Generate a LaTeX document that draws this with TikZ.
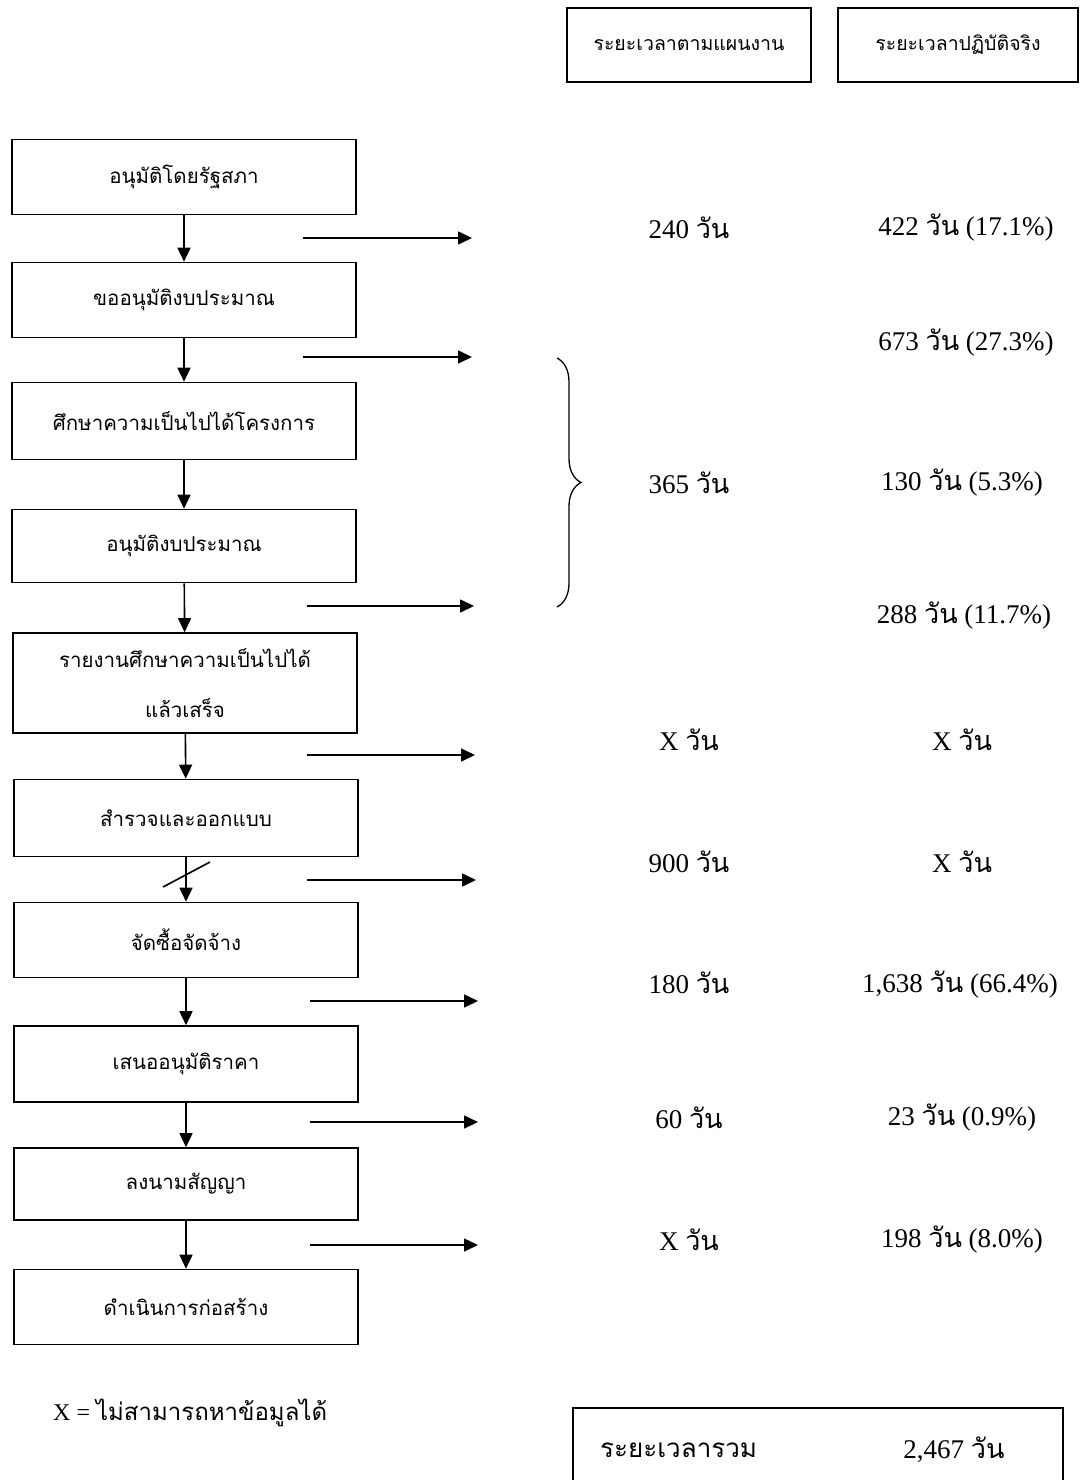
\documentclass[tikz,border=0pt]{standalone}
\usepackage{fontspec}
\setmainfont{Liberation Serif}
\newfontfamily\thai[Script=Thai]{Loma}
\usetikzlibrary{arrows.meta,decorations.pathreplacing}
\begin{document}
\begin{tikzpicture}[x=1pt,y=-1pt,
  stepbox/.style={draw,line width=1.6pt,minimum width=344pt,minimum height=75pt,align=center,inner sep=2pt,font=\thai\fontsize{20.5}{34}\selectfont},
  headbox/.style={draw,line width=1.6pt,minimum width=244pt,minimum height=74pt,font=\thai\fontsize{19.5}{26}\selectfont},
  flow/.style={line width=1.6pt,-{Triangle[length=14pt,width=13pt]}},
  val/.style={font=\fontsize{27}{30}\selectfont,inner sep=0pt}]
\useasboundingbox (0,0) rectangle (1083,1480);
\fill[white] (0,0) rectangle (1083,1480);
% headers
\node[headbox] (h1) at (689,45) {ระยะเวลาตามแผนงาน};
\node[headbox,minimum width=240pt] (h2) at (958,45) {ระยะเวลาปฏิบัติจริง};
% steps
\node[stepbox] (b1) at (184,177) {อนุมัติโดยรัฐสภา};
\node[stepbox] (b2) at (184,300) {ขออนุมัติงบประมาณ};
\node[stepbox,minimum height=77pt] (b3) at (184,421) {ศึกษาความเป็นไปได้โครงการ};
\node[stepbox,minimum height=73pt] (b4) at (184,546) {อนุมัติงบประมาณ};
\node[stepbox,minimum height=100pt,font=\thai\fontsize{20.5}{50}\selectfont] (b5) at (185,683) {รายงานศึกษาความเป็นไปได้\\แล้วเสร็จ};
\node[stepbox,minimum height=77pt] (b6) at (186,818) {สำรวจและออกแบบ};
\node[stepbox] (b7) at (186,940) {จัดซื้อจัดจ้าง};
\node[stepbox,minimum height=76pt] (b8) at (186,1064) {เสนออนุมัติราคา};
\node[stepbox,minimum height=72pt] (b9) at (186,1184) {ลงนามสัญญา};
\node[stepbox] (b10) at (186,1307) {ดำเนินการก่อสร้าง};
% vertical arrows
\foreach \a/\b in {b1/b2,b2/b3,b3/b4,b4/b5,b5/b6,b6/b7,b7/b8,b8/b9,b9/b10}
  \draw[flow] (\a) -- (\b);
% slash
\coordinate (s1) at (163,887);
\coordinate (s2) at (210,862);
\draw[line width=1.6pt] (s1) -- (s2);
% horizontal arrows
\foreach \i/\y/\xa/\xb in {1/238/303/472,2/357/303/472,3/606/307/474,4/755/307/475,5/880/307/476,6/1001/310/478,7/1122/310/478,8/1245/310/478}{
  \coordinate (l\i) at (\xa,\y);
  \coordinate (r\i) at (\xb,\y);
  \draw[flow] (l\i) -- (r\i);
}
% brace
\coordinate (bt) at (557,358);
\coordinate (bb) at (557,607);
\draw[line width=1.3pt,decorate,decoration={brace,amplitude=24pt}] (bt) -- (bb);
% values planned
\node[val] (p1) at (689,228) {240 {\thai วัน}};
\node[val] (p2) at (689,483) {365 {\thai วัน}};
\node[val] (p3) at (689,740) {X {\thai วัน}};
\node[val] (p4) at (689,862) {900 {\thai วัน}};
\node[val] (p5) at (689,983) {180 {\thai วัน}};
\node[val] (p6) at (689,1118) {60 {\thai วัน}};
\node[val] (p7) at (689,1240) {X {\thai วัน}};
% values actual
\node[val] (q1) at (966,228) {422 {\thai วัน} (17.1\%)};
\node[val] (q2) at (966,343) {673 {\thai วัน} (27.3\%)};
\node[val] (q3) at (962,483) {130 {\thai วัน} (5.3\%)};
\node[val] (q4) at (964,616) {288 {\thai วัน} (11.7\%)};
\node[val] (q5) at (962,740) {X {\thai วัน}};
\node[val] (q6) at (962,862) {X {\thai วัน}};
\node[val] (q7) at (960,985) {1,638 {\thai วัน} (66.4\%)};
\node[val] (q8) at (962,1118) {23 {\thai วัน} (0.9\%)};
\node[val] (q9) at (962,1240) {198 {\thai วัน} (8.0\%)};
% legend
\node[val,anchor=west,font=\fontsize{24}{28}\selectfont] (leg) at (53,1413) {X = {\thai ไม่สามารถหาข้อมูลได้}};
% total box
\coordinate (tb1) at (573,1482);
\coordinate (tb2) at (1063,1482);
\draw[line width=1.6pt] (tb1) |- (1063,1408) -- (tb2);
\node[val,anchor=west,font=\thai\fontsize{26}{30}\selectfont] (tl) at (600,1450) {ระยะเวลารวม};
\node[val] (tv) at (954,1450) {2,467 {\thai วัน}};
\end{tikzpicture}
\end{document}
